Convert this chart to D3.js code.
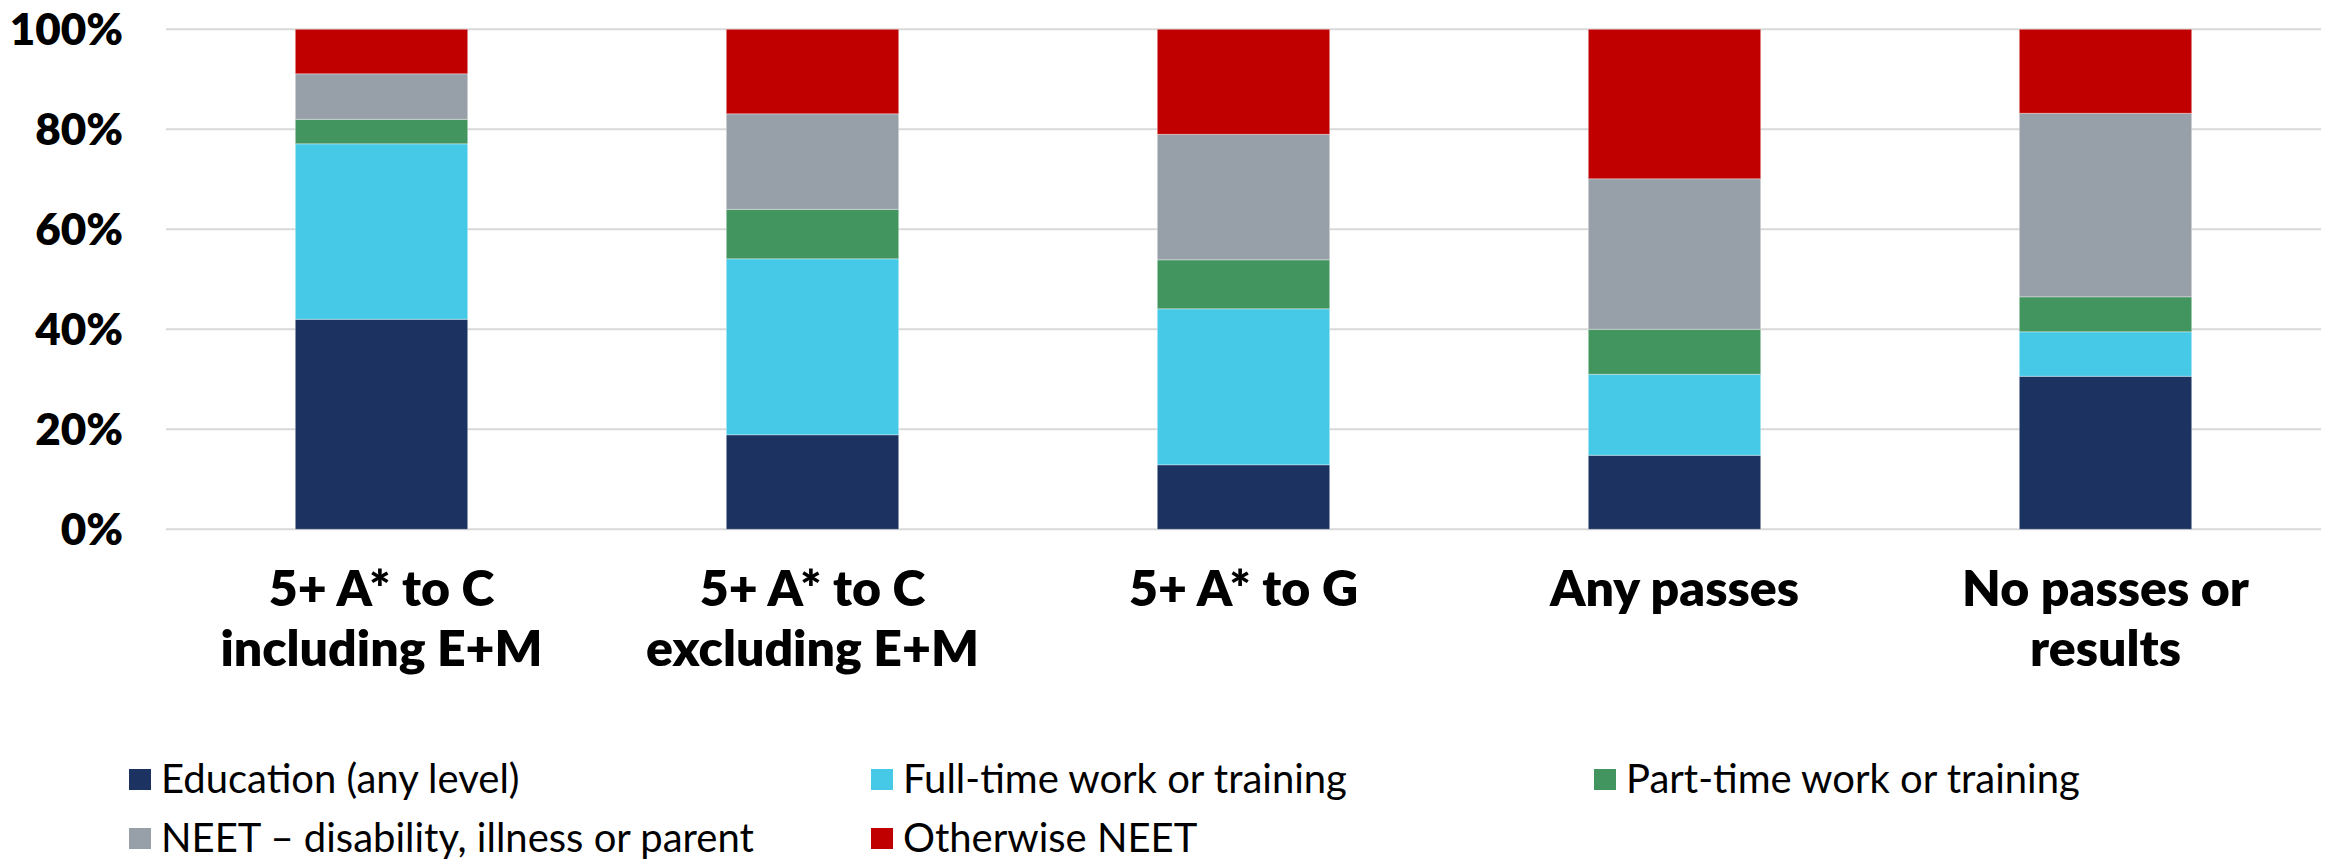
<!DOCTYPE html>
<html>
<head>
<meta charset="utf-8">
<script src="https://cdn.jsdelivr.net/npm/d3@7"></script>
<style>
  html, body { margin: 0; padding: 0; background: #fff; }
  svg { display: block; }
  text { font-family: "Gill Sans MT", "Gill Sans", Lato, sans-serif; fill: #000; }
</style>
</head>
<body>
<svg id="chart" width="2333" height="860"></svg>
<script>
// ---- data (percent of each group) ----
const categories = [
  ["5+ A* to C", "including E+M"],
  ["5+ A* to C", "excluding E+M"],
  ["5+ A* to G"],
  ["Any passes"],
  ["No passes or", "results"]
];
const seriesNames = [
  "Education (any level)",
  "Full-time work or training",
  "Part-time work or training",
  "NEET \u2013 disability, illness or parent",
  "Otherwise NEET"
];
const education   = [42.0, 18.9, 12.9, 14.8, 30.6];
const fullTime    = [35.1, 35.2, 31.2, 16.2,  8.9];
const partTime    = [ 4.9,  9.9,  9.8,  9.0,  7.0];
const neetDisab   = [ 9.1, 19.1, 25.1, 30.1, 36.7];
const otherNeet   = [ 8.9, 16.9, 21.0, 29.9, 16.8];
const yTicks = [0, 20, 40, 60, 80, 100];
const colors = ["#1C3260", "#46C9E6", "#43955F", "#979FA8", "#C00000"];

const seriesValues = [education, fullTime, partTime, neetDisab, otherNeet];
const keys = ["s0", "s1", "s2", "s3", "s4"];
const rows = categories.map((c, i) => {
  const r = { idx: i };
  keys.forEach((k, j) => r[k] = seriesValues[j][i]);
  return r;
});

const svg = d3.select("#chart");
const plot = { left: 166, right: 2321, top: 29.3, bottom: 529.3 };

const x = d3.scaleBand()
  .domain(d3.range(categories.length))
  .range([plot.left, plot.right])
  .paddingInner(0.6)
  .paddingOuter(0.3);
const y = d3.scaleLinear().domain([0, 100]).range([plot.bottom, plot.top]);

// gridlines
svg.append("g")
  .selectAll("line")
  .data(yTicks)
  .join("line")
  .attr("x1", plot.left).attr("x2", plot.right)
  .attr("y1", d => y(d)).attr("y2", d => y(d))
  .attr("stroke", "#D9D9D9").attr("stroke-width", 2);

// y axis labels
const yAxis = d3.axisLeft(y).tickValues(yTicks).tickFormat(d => d + "%").tickSize(0).tickPadding(0);
const yg = svg.append("g").attr("transform", `translate(${plot.left - 43},0)`).call(yAxis);
yg.select(".domain").remove();
yg.selectAll("text")
  .attr("font-size", 44).attr("font-weight", 800)
  .attr("font-family", "'Gill Sans MT', 'Gill Sans', Lato, sans-serif")
  .attr("dy", "0.35em").attr("fill", "#000");

// stacked bars
const stack = d3.stack().keys(keys)(rows);
svg.append("g")
  .selectAll("g")
  .data(stack)
  .join("g")
  .attr("fill", (d, i) => colors[i])
  .selectAll("rect")
  .data(d => d)
  .join("rect")
  .attr("x", d => x(d.data.idx))
  .attr("width", x.bandwidth())
  .attr("y", d => y(d[1]))
  .attr("height", d => y(d[0]) - y(d[1]))
  .attr("stroke", "rgba(255,255,255,0.35)")
  .attr("stroke-width", 1);

// category labels
const xg = svg.append("g");
categories.forEach((lines, i) => {
  const t = xg.append("text")
    .attr("text-anchor", "middle")
    .attr("font-size", 50)
    .attr("font-weight", 800)
    .attr("x", x(i) + x.bandwidth() / 2)
    .attr("y", 606);
  lines.forEach((ln, j) => {
    t.append("tspan")
      .attr("x", x(i) + x.bandwidth() / 2)
      .attr("dy", j === 0 ? 0 : 60)
      .text(ln);
  });
});

// legend
const legendCols = [129, 871, 1594];
const legendRows = [779, 838];
const lg = svg.append("g");
seriesNames.forEach((name, i) => {
  const col = i % 3, row = Math.floor(i / 3);
  const gx = legendCols[col], gy = legendRows[row];
  lg.append("rect")
    .attr("x", gx).attr("y", gy - 10)
    .attr("width", 22).attr("height", 21)
    .attr("fill", colors[i]);
  lg.append("text")
    .attr("x", gx + 32).attr("y", gy)
    .attr("dy", "0.35em")
    .attr("font-size", 40)
    .text(name);
});
</script>
</body>
</html>
